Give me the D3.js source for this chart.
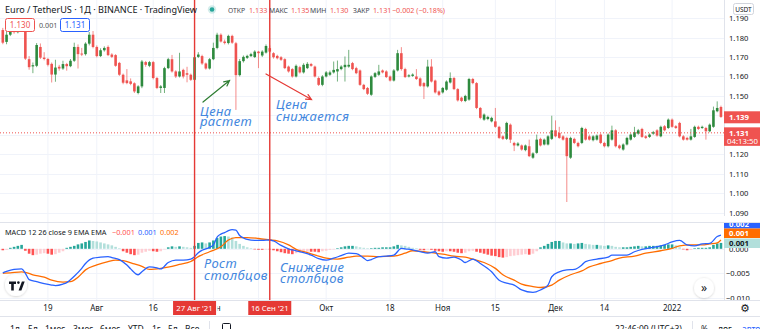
<!DOCTYPE html>
<html><head><meta charset="utf-8">
<script src="https://cdn.jsdelivr.net/npm/d3@7"></script>
<style>
body{margin:0;background:#fff;overflow:hidden}
svg{display:block;font-family:"Noto Sans","Liberation Sans",sans-serif}
</style></head>
<body><svg id="c" width="760" height="329"></svg>
<script>
// EUR/USDT daily candles, 7 Jul 2021 – 14 Jan 2022
const firstDay = "2021-07-07";
const open = [1.1839,1.1778,1.1815,1.1835,1.1828,1.1845,1.1838,1.1689,1.1652,1.1655,1.1752,1.1697,1.1690,1.1665,1.1610,1.1650,1.1641,1.1664,1.1653,1.1681,1.1752,1.1718,1.1715,1.1769,1.1815,1.1752,1.1705,1.1735,1.1752,1.1713,1.1710,1.1670,1.1609,1.1580,1.1575,1.1565,1.1515,1.1549,1.1674,1.1655,1.1674,1.1592,1.1541,1.1541,1.1643,1.1689,1.1626,1.1600,1.1634,1.1617,1.1609,1.1583,1.1701,1.1705,1.1667,1.1641,1.1689,1.1747,1.1815,1.1780,1.1772,1.1809,1.1771,1.1607,1.1679,1.1696,1.1705,1.1700,1.1728,1.1708,1.1723,1.1746,1.1720,1.1706,1.1699,1.1689,1.1651,1.1638,1.1600,1.1648,1.1621,1.1643,1.1664,1.1651,1.1592,1.1557,1.1600,1.1609,1.1621,1.1626,1.1638,1.1648,1.1651,1.1669,1.1643,1.1631,1.1557,1.1541,1.1506,1.1598,1.1609,1.1631,1.1626,1.1600,1.1579,1.1631,1.1720,1.1638,1.1600,1.1603,1.1600,1.1590,1.1566,1.1549,1.1651,1.1579,1.1523,1.1518,1.1532,1.1569,1.1592,1.1535,1.1491,1.1474,1.1481,1.1587,1.1566,1.1438,1.1378,1.1381,1.1369,1.1369,1.1341,1.1292,1.1279,1.1352,1.1258,1.1245,1.1245,1.1221,1.1241,1.1182,1.1207,1.1279,1.1250,1.1250,1.1279,1.1323,1.1310,1.1292,1.1284,1.1182,1.1279,1.1258,1.1258,1.1330,1.1292,1.1272,1.1275,1.1301,1.1258,1.1241,1.1275,1.1323,1.1245,1.1224,1.1250,1.1275,1.1289,1.1306,1.1330,1.1292,1.1289,1.1306,1.1323,1.1292,1.1344,1.1335,1.1378,1.1344,1.1361,1.1292,1.1284,1.1275,1.1289,1.1341,1.1335,1.1335,1.1318,1.1341,1.1421,1.1443];
const high = [1.1850,1.1834,1.1845,1.1850,1.1858,1.1862,1.1845,1.1705,1.1672,1.1772,1.1770,1.1725,1.1696,1.1672,1.1686,1.1660,1.1681,1.1670,1.1690,1.1774,1.1765,1.1747,1.1776,1.1829,1.1834,1.1760,1.1745,1.1755,1.1760,1.1720,1.1715,1.1675,1.1615,1.1638,1.1590,1.1570,1.1555,1.1685,1.1680,1.1680,1.1680,1.1598,1.1556,1.1650,1.1696,1.1711,1.1632,1.1722,1.1640,1.1650,1.1615,1.1706,1.1725,1.1712,1.1672,1.1695,1.1774,1.1825,1.1822,1.1790,1.1815,1.1815,1.1778,1.1690,1.1708,1.1712,1.1722,1.1735,1.1732,1.1735,1.1765,1.1760,1.1725,1.1712,1.1705,1.1694,1.1656,1.1643,1.1662,1.1655,1.1668,1.1674,1.1670,1.1656,1.1600,1.1607,1.1628,1.1630,1.1677,1.1682,1.1658,1.1703,1.1737,1.1675,1.1650,1.1636,1.1562,1.1546,1.1606,1.1623,1.1660,1.1636,1.1632,1.1605,1.1638,1.1737,1.1751,1.1645,1.1612,1.1616,1.1638,1.1596,1.1571,1.1686,1.1689,1.1584,1.1528,1.1546,1.1580,1.1621,1.1598,1.1540,1.1496,1.1506,1.1593,1.1593,1.1571,1.1443,1.1410,1.1398,1.1393,1.1438,1.1346,1.1297,1.1367,1.1358,1.1264,1.1262,1.1250,1.1250,1.1275,1.1210,1.1301,1.1285,1.1281,1.1298,1.1398,1.1374,1.1341,1.1298,1.1290,1.1290,1.1285,1.1264,1.1341,1.1336,1.1301,1.1298,1.1302,1.1307,1.1264,1.1307,1.1347,1.1329,1.1250,1.1256,1.1290,1.1307,1.1341,1.1330,1.1336,1.1298,1.1307,1.1320,1.1329,1.1347,1.1350,1.1384,1.1384,1.1350,1.1367,1.1298,1.1290,1.1330,1.1347,1.1347,1.1347,1.1341,1.1358,1.1445,1.1472,1.1450];
const low = [1.1766,1.1766,1.1808,1.1820,1.1822,1.1830,1.1685,1.1635,1.1617,1.1648,1.1690,1.1683,1.1652,1.1569,1.1573,1.1630,1.1634,1.1630,1.1648,1.1675,1.1641,1.1705,1.1708,1.1760,1.1745,1.1698,1.1700,1.1728,1.1705,1.1695,1.1650,1.1603,1.1560,1.1560,1.1555,1.1515,1.1508,1.1540,1.1650,1.1648,1.1585,1.1535,1.1515,1.1515,1.1638,1.1620,1.1592,1.1595,1.1590,1.1570,1.1577,1.1577,1.1695,1.1660,1.1635,1.1636,1.1684,1.1740,1.1775,1.1765,1.1765,1.1768,1.1428,1.1600,1.1672,1.1690,1.1700,1.1695,1.1643,1.1700,1.1718,1.1722,1.1692,1.1688,1.1680,1.1638,1.1620,1.1594,1.1595,1.1615,1.1615,1.1638,1.1650,1.1595,1.1551,1.1550,1.1595,1.1603,1.1615,1.1574,1.1632,1.1574,1.1645,1.1632,1.1612,1.1552,1.1530,1.1505,1.1500,1.1592,1.1603,1.1616,1.1592,1.1574,1.1574,1.1626,1.1630,1.1592,1.1595,1.1598,1.1582,1.1546,1.1484,1.1543,1.1569,1.1512,1.1500,1.1512,1.1527,1.1564,1.1530,1.1471,1.1468,1.1468,1.1475,1.1560,1.1432,1.1380,1.1372,1.1375,1.1364,1.1336,1.1278,1.1273,1.1273,1.1258,1.1216,1.1240,1.1218,1.1215,1.1185,1.1176,1.1202,1.1240,1.1245,1.1245,1.1273,1.1287,1.1279,1.1270,1.0954,1.1176,1.1252,1.1235,1.1252,1.1270,1.1270,1.1266,1.1270,1.1252,1.1235,1.1235,1.1270,1.1235,1.1225,1.1218,1.1245,1.1270,1.1284,1.1300,1.1284,1.1278,1.1284,1.1300,1.1290,1.1287,1.1318,1.1330,1.1336,1.1330,1.1287,1.1270,1.1270,1.1270,1.1284,1.1325,1.1330,1.1275,1.1313,1.1336,1.1416,1.1387];
const close = [1.1774,1.1815,1.1835,1.1828,1.1845,1.1838,1.1692,1.1648,1.1658,1.1762,1.1697,1.1690,1.1660,1.1610,1.1646,1.1641,1.1664,1.1653,1.1681,1.1752,1.1715,1.1715,1.1769,1.1815,1.1752,1.1705,1.1735,1.1747,1.1710,1.1701,1.1655,1.1609,1.1568,1.1566,1.1562,1.1523,1.1549,1.1677,1.1660,1.1674,1.1592,1.1541,1.1549,1.1643,1.1689,1.1626,1.1600,1.1626,1.1600,1.1609,1.1583,1.1699,1.1713,1.1667,1.1641,1.1689,1.1747,1.1815,1.1780,1.1772,1.1809,1.1774,1.1607,1.1679,1.1701,1.1706,1.1715,1.1728,1.1720,1.1728,1.1757,1.1728,1.1699,1.1694,1.1686,1.1643,1.1626,1.1600,1.1655,1.1621,1.1660,1.1665,1.1655,1.1600,1.1557,1.1600,1.1621,1.1621,1.1634,1.1638,1.1651,1.1660,1.1660,1.1638,1.1617,1.1557,1.1535,1.1511,1.1600,1.1617,1.1626,1.1621,1.1597,1.1579,1.1631,1.1720,1.1638,1.1597,1.1606,1.1610,1.1587,1.1552,1.1549,1.1651,1.1574,1.1518,1.1506,1.1541,1.1574,1.1592,1.1535,1.1477,1.1474,1.1500,1.1587,1.1566,1.1438,1.1387,1.1404,1.1392,1.1387,1.1341,1.1284,1.1279,1.1361,1.1275,1.1245,1.1255,1.1224,1.1245,1.1190,1.1204,1.1275,1.1245,1.1275,1.1292,1.1323,1.1292,1.1284,1.1275,1.1190,1.1284,1.1258,1.1241,1.1335,1.1275,1.1275,1.1292,1.1296,1.1258,1.1241,1.1301,1.1323,1.1241,1.1231,1.1250,1.1284,1.1301,1.1313,1.1323,1.1289,1.1284,1.1301,1.1313,1.1296,1.1341,1.1323,1.1378,1.1341,1.1335,1.1292,1.1275,1.1275,1.1292,1.1341,1.1330,1.1341,1.1318,1.1352,1.1426,1.1438,1.1392];

// MACD (12, 26, close, 9) — line readings by day offset
const macdDay = [0,1,3,5,6,7,9,11,13,14,16,17,19,21,22,24,26,28,29,31,33,34,36,37,39,41,42,44,46,48,50,51,52,53,55,56,57,58,59,60,61,62,63,64,65,67,69,71,72,74,76,78,80,82,84,86,88,90,92,94,96,97,98,100,102,104,106,107,109,111,113,115,116,118,120,122,123,125,127,130,132,134,136,138,141,143,145,146,148,150,152,154,155,158,161,162,166,168,170,173,176,178,180,182,184,186,188,190,191];
const macdValue = [-0.0049,-0.0046,-0.0042,-0.0041,-0.0050,-0.0063,-0.0067,-0.0071,-0.0074,-0.0075,-0.0072,-0.0069,-0.0056,-0.0040,-0.0030,-0.0019,-0.0017,-0.0016,-0.0018,-0.0022,-0.0033,-0.0041,-0.0053,-0.0047,-0.0037,-0.0039,-0.0041,-0.0028,-0.0023,-0.0023,-0.0021,-0.0016,-0.0008,-0.0003,0.0003,0.0008,0.0024,0.0030,0.0033,0.0037,0.0039,0.0038,0.0027,0.0022,0.0019,0.0017,0.0017,0.0018,0.0016,0.0007,0.0000,-0.0004,-0.0008,-0.0013,-0.0020,-0.0023,-0.0019,-0.0014,-0.0009,-0.0010,-0.0019,-0.0024,-0.0022,-0.0016,-0.0015,-0.0013,0.0001,0.0000,-0.0002,-0.0006,-0.0009,-0.0006,-0.0016,-0.0019,-0.0017,-0.0023,-0.0028,-0.0021,-0.0030,-0.0047,-0.0064,-0.0070,-0.0074,-0.0084,-0.0089,-0.0084,-0.0074,-0.0057,-0.0047,-0.0043,-0.0042,-0.0033,-0.0026,-0.0021,-0.0017,-0.0013,-0.0013,-0.0006,-0.0001,0.0003,0.0008,0.0014,0.0017,0.0008,0.0006,0.0010,0.0011,0.0025,0.0028];
const signalDay = [0,2,5,6,8,11,13,16,18,20,22,25,28,30,32,35,37,39,42,45,47,50,52,55,58,60,62,65,68,71,73,76,78,81,84,86,89,92,94,97,100,104,107,109,112,115,117,120,123,125,128,131,133,136,138,141,143,146,148,151,154,156,159,162,164,168,171,175,178,180,183,186,188,190,191];
const signalValue = [-0.0050,-0.0049,-0.0047,-0.0048,-0.0053,-0.0058,-0.0064,-0.0068,-0.0067,-0.0058,-0.0043,-0.0033,-0.0026,-0.0023,-0.0024,-0.0031,-0.0036,-0.0042,-0.0040,-0.0036,-0.0032,-0.0026,-0.0016,-0.0006,0.0004,0.0018,0.0023,0.0023,0.0021,0.0018,0.0016,0.0008,-0.0001,-0.0008,-0.0015,-0.0019,-0.0021,-0.0017,-0.0015,-0.0015,-0.0016,-0.0015,-0.0009,-0.0004,-0.0006,-0.0009,-0.0011,-0.0015,-0.0017,-0.0021,-0.0028,-0.0040,-0.0053,-0.0064,-0.0072,-0.0077,-0.0079,-0.0074,-0.0064,-0.0053,-0.0045,-0.0037,-0.0030,-0.0024,-0.0019,-0.0015,-0.0009,-0.0004,0.0001,0.0006,0.0008,0.0008,0.0010,0.0012,0.0018];
// histogram, one bar per day
const histValue = [-0.0003,-0.0002,0.0002,0.0004,0.0006,0.0008,-0.0004,-0.0010,-0.0013,-0.0012,-0.0010,-0.0009,-0.0010,-0.0012,-0.0011,-0.0008,-0.0005,0.0002,0.0004,0.0006,0.0009,0.0011,0.0014,0.0017,0.0016,0.0015,0.0013,0.0011,0.0009,0.0007,0.0004,0.0001,-0.0005,-0.0008,-0.0011,-0.0013,-0.0012,-0.0008,-0.0006,-0.0004,-0.0005,-0.0006,-0.0005,-0.0001,0.0003,0.0005,0.0004,0.0005,0.0004,0.0003,0.0002,0.0006,0.0012,0.0013,0.0011,0.0013,0.0017,0.0022,0.0025,0.0026,0.0025,0.0023,0.0016,0.0010,0.0006,0.0003,0.0001,-0.0001,-0.0002,-0.0002,-0.0001,-0.0001,-0.0003,-0.0005,-0.0007,-0.0009,-0.0010,-0.0011,-0.0009,-0.0008,-0.0007,-0.0006,-0.0006,-0.0006,-0.0007,-0.0005,-0.0004,-0.0002,-0.0001,0.0001,0.0003,0.0005,0.0006,0.0006,0.0005,0.0003,0.0002,0.0001,0.0001,0.0002,0.0002,0.0003,0.0003,0.0003,0.0005,0.0008,0.0007,0.0006,0.0004,0.0002,0.0001,-0.0002,-0.0003,-0.0001,-0.0002,-0.0004,-0.0005,-0.0006,-0.0005,-0.0005,-0.0006,-0.0008,-0.0009,-0.0008,-0.0005,-0.0004,-0.0006,-0.0008,-0.0010,-0.0012,-0.0014,-0.0015,-0.0017,-0.0018,-0.0017,-0.0015,-0.0014,-0.0013,-0.0012,-0.0011,-0.0012,-0.0010,-0.0005,0.0003,0.0006,0.0010,0.0014,0.0016,0.0016,0.0013,0.0011,0.0011,0.0010,0.0011,0.0012,0.0010,0.0009,0.0008,0.0008,0.0007,0.0006,0.0007,0.0006,0.0004,0.0003,0.0003,0.0003,0.0004,0.0005,0.0006,0.0005,0.0005,0.0006,0.0006,0.0006,0.0007,0.0008,0.0009,0.0009,0.0007,0.0003,-0.0001,-0.0003,-0.0002,0.0001,0.0002,0.0002,0.0002,0.0003,0.0008,0.0011,0.0012];

const priceTicks = [1.190,1.180,1.170,1.160,1.150,1.140,1.130,1.120,1.110,1.100,1.090];
const priceTickLabels = ["1.190","1.180","1.170","1.160","1.150",null,null,"1.120","1.110","1.100","1.090"];
const macdTicks = [0.000,-0.005,-0.010];
const macdTickLabels = ["0.000","\u22120.005","\u22120.010"];
const timeTickDates = ["2021-07-19","2021-08-01","2021-08-16","2021-09-01","2021-09-13","2021-10-01","2021-10-18","2021-11-01","2021-11-15","2021-12-01","2021-12-14","2022-01-01"];
const timeTickLabels = ["19","Авг","16","Сен",null,"Окт","18","Ноя","15","Дек","14","2022"];
const markerDates = ["2021-08-27","2021-09-16"];
const markerLabels = ["27 Авг '21","16 Сен '21"];
const lastPrice = 1.131, prevClose = 1.139;
const legendKeys = ["ОТКР","МАКС","МИН","ЗАКР"];
const legendVals = ["1.133","1.135","1.130","1.131"];
const macdLegend = ["\u22120.001","0.001","0.002"];
const macdAxisValues = ["0.002","0.001","0.001"];
const rangeButtons = ["1д","5д","1мес","3мес","6мес","YTD","1г","5л","Все"];

const parse = d3.utcParse("%Y-%m-%d");
const day0 = parse(firstDay);
const dayAt = i => d3.utcDay.offset(day0, i);
const candles = open.map((o,i)=>({d:dayAt(i),o,h:high[i],l:low[i],c:close[i]}));

const W=760, plotR=724, mainTop=0, mainBot=222, macdTop=223, macdBot=300, axisBot=316;
const x = d3.scaleTime().domain([day0, dayAt(191)]).range([2.8, 2.8+191*3.76]);
const y = d3.scaleLinear().domain([1.090,1.190]).range([212.5,18.2]);
const ym = d3.scaleLinear().domain([-0.010,0]).range([297.8,248.8]);

const UP="#2e8a3e", DOWN="#ef5350", GRID="#f0f3fa", BORDER="#e0e3eb", TXT="#131722";
const svg = d3.select("#c");
const defs = svg.append("defs");
defs.append("clipPath").attr("id","cm").append("rect").attr("x",0).attr("y",mainTop).attr("width",plotR).attr("height",mainBot-mainTop);
defs.append("clipPath").attr("id","cd").append("rect").attr("x",0).attr("y",macdTop).attr("width",plotR).attr("height",macdBot-macdTop);
defs.append("clipPath").attr("id","cz").append("rect").attr("x",plotR).attr("y",248).attr("width",W-plotR).attr("height",10);
defs.append("clipPath").attr("id","cs").append("rect").attr("x",217.5).attr("y",300).attr("width",20).attr("height",16);
const sh = defs.append("filter").attr("id","sh").attr("x","-50%").attr("y","-50%").attr("width","200%").attr("height","200%");
sh.append("feDropShadow").attr("dx",0).attr("dy",0.5).attr("stdDeviation",1.2).attr("flood-color","#000").attr("flood-opacity",0.22);

svg.append("rect").attr("width",W).attr("height",329).attr("fill","#fff");

// grid
const tickDates = timeTickDates.map(parse);
const grid = svg.append("g");
grid.selectAll("line.v").data(tickDates).join("line")
  .attr("x1",d=>x(d)).attr("x2",d=>x(d)).attr("y1",0).attr("y2",macdBot)
  .attr("stroke",GRID).attr("stroke-width",1);
grid.selectAll("line.h").data(priceTicks).join("line")
  .attr("x1",0).attr("x2",plotR).attr("y1",d=>Math.round(y(d))+0.5).attr("y2",d=>Math.round(y(d))+0.5)
  .attr("stroke",GRID);
grid.selectAll("line.m").data(macdTicks).join("line")
  .attr("x1",0).attr("x2",plotR).attr("y1",d=>Math.round(ym(d))+0.5).attr("y2",d=>Math.round(ym(d))+0.5)
  .attr("stroke",GRID);

// candles
const cg = svg.append("g").attr("clip-path","url(#cm)");
const bw = 2.6;
cg.selectAll("line.w").data(candles).join("line")
  .attr("x1",d=>x(d.d)).attr("x2",d=>x(d.d)).attr("y1",d=>y(d.h)).attr("y2",d=>y(d.l))
  .attr("stroke",d=>d.c>=d.o?UP:DOWN).attr("stroke-width",0.9).attr("stroke-opacity",0.75);
cg.selectAll("rect.b").data(candles).join("rect")
  .attr("x",d=>x(d.d)-bw/2).attr("width",bw)
  .attr("y",d=>y(Math.max(d.o,d.c)))
  .attr("height",d=>Math.max(1,Math.abs(y(d.o)-y(d.c))))
  .attr("fill",d=>d.c>=d.o?UP:DOWN);

// last price line
cg.append("line").attr("x1",0).attr("x2",plotR).attr("y1",y(lastPrice)).attr("y2",y(lastPrice))
  .attr("stroke",DOWN).attr("stroke-width",1).attr("stroke-dasharray","1,2");

// MACD pane
const mg = svg.append("g").attr("clip-path","url(#cd)");
const hist = histValue.map((v,i)=>({d:dayAt(i),v,p:i?histValue[i-1]:v}));
const histColor = h => h.v>=0 ? (h.v>=h.p?"#26a69a":"#b2dfdb") : (h.v<=h.p?"#ff5252":"#ffcdd2");
mg.selectAll("rect").data(hist).join("rect")
  .attr("x",d=>x(d.d)-1.3).attr("width",2.6)
  .attr("y",d=>Math.min(ym(0),ym(d.v))).attr("height",d=>Math.max(0.6,Math.abs(ym(d.v)-ym(0))))
  .attr("fill",histColor);
const line = d3.line().x(d=>x(dayAt(d[0]))).y(d=>ym(d[1])).curve(d3.curveMonotoneX);
mg.append("path").attr("d",line(signalDay.map((d,i)=>[d,signalValue[i]])))
  .attr("fill","none").attr("stroke","#ff6d00").attr("stroke-width",1.3);
mg.append("path").attr("d",line(macdDay.map((d,i)=>[d,macdValue[i]])))
  .attr("fill","none").attr("stroke","#2962ff").attr("stroke-width",1.3);

// pane separator
svg.append("line").attr("x1",0).attr("x2",W).attr("y1",222.5).attr("y2",222.5).attr("stroke",BORDER);

// vertical marker lines
const markers = markerDates.map(parse);
svg.selectAll("line.mk").data(markers).join("line")
  .attr("x1",d=>x(d)).attr("x2",d=>x(d)).attr("y1",0).attr("y2",macdBot)
  .attr("stroke","#e53935").attr("stroke-width",1.4);

// annotations
const ann = svg.append("g");
function arrow(x1,y1,x2,y2,col){
  const a=Math.atan2(y2-y1,x2-x1), L=6, s=0.45;
  ann.append("path").attr("d",`M${x1},${y1}L${x2},${y2}M${x2-L*Math.cos(a-s)},${y2-L*Math.sin(a-s)}L${x2},${y2}L${x2-L*Math.cos(a+s)},${y2-L*Math.sin(a+s)}`)
    .attr("fill","none").attr("stroke",col).attr("stroke-width",1.2).attr("stroke-linecap","round");
}
arrow(203,102,229.5,80.5,"#2e7d32");
arrow(266,74,311.5,99.5,"#e53935");
const annStyle = s => s.attr("fill","#4387de").attr("font-style","italic").attr("font-size",13).attr("letter-spacing",0.4);
[["Цена",200,116],["растет",200,125.5],["Цена",276,109],["снижается",276,121],["Рост",204,268],["столбцов",204,279.5],["Снижение",280,272],["столбцов",280,283]]
  .forEach(([t,tx,ty])=>ann.append("text").attr("x",tx).attr("y",ty).text(t).call(annStyle));

// right price axis
const ax = svg.append("g");
ax.append("rect").attr("x",plotR).attr("y",0).attr("width",W-plotR).attr("height",axisBot).attr("fill","#fff");
ax.append("line").attr("x1",plotR+0.5).attr("x2",plotR+0.5).attr("y1",0).attr("y2",axisBot).attr("stroke",BORDER);
ax.selectAll("text.p").data(priceTicks.filter((d,i)=>priceTickLabels[i])).join("text")
  .attr("x",729).attr("y",d=>y(d)+3).attr("font-size",7.6).attr("fill",TXT).text(d=>d3.format(".3f")(d));
ax.append("rect").attr("x",733.5).attr("y",3.5).attr("width",20).attr("height",11).attr("rx",2).attr("fill","#fff").attr("stroke","#d1d4dc");
ax.append("text").attr("x",743.5).attr("y",11.5).attr("text-anchor","middle").attr("font-size",6.5).attr("fill",TXT).text("USDT");
// price labels
ax.append("rect").attr("x",plotR).attr("y",y(prevClose)-6).attr("width",W-plotR).attr("height",12).attr("fill",DOWN);
ax.append("text").attr("x",729).attr("y",y(prevClose)+3).attr("font-size",7.8).attr("font-weight","bold").attr("fill","#fff").text(d3.format(".3f")(prevClose));
ax.append("rect").attr("x",plotR).attr("y",y(lastPrice)-5.5).attr("width",W-plotR).attr("height",18.5).attr("fill",DOWN);
ax.append("text").attr("x",729).attr("y",y(lastPrice)+2.8).attr("font-size",7.8).attr("font-weight","bold").attr("fill","#fff").text(d3.format(".3f")(lastPrice));
ax.append("text").attr("x",727).attr("y",y(lastPrice)+11.2).attr("font-size",7.8).attr("fill","#fff").text("04:13:50");
// MACD axis
const mx = svg.append("g");
mx.selectAll("text").data(macdTicks).join("text")
  .attr("x",(d,i)=>i?726:729).attr("y",d=>ym(d)+3).attr("font-size",7.6).attr("fill",TXT)
  .attr("clip-path",(d,i)=>i?null:"url(#cz)").text((d,i)=>macdTickLabels[i]);
const macdBoxes = [["#2962ff","#fff",219],["#ff6d00","#fff",228.5],["#b2dfdb",TXT,238.5]];
macdBoxes.forEach(([bg,fg,by],i)=>{
  mx.append("rect").attr("x",plotR).attr("y",by).attr("width",W-plotR).attr("height",9.5).attr("fill",bg);
  mx.append("text").attr("x",729).attr("y",by+7.5).attr("font-size",7.8).attr("font-weight","bold").attr("fill",fg).text(macdAxisValues[i]);
});
svg.append("rect").attr("x",plotR).attr("y",216).attr("width",W-plotR).attr("height",6.5).attr("fill","#fff");
svg.append("line").attr("x1",plotR).attr("x2",W).attr("y1",222.5).attr("y2",222.5).attr("stroke",BORDER);

// time axis
const ta = svg.append("g");
ta.append("rect").attr("x",0).attr("y",macdBot).attr("width",W).attr("height",axisBot-macdBot).attr("fill","#fff");
ta.append("line").attr("x1",0).attr("x2",W).attr("y1",macdBot+0.5).attr("y2",macdBot+0.5).attr("stroke",BORDER);
const tickItems = tickDates.map((d,i)=>({d,t:timeTickLabels[i]})).filter(t=>t.t);
ta.selectAll("text").data(tickItems).join("text")
  .attr("x",d=>x(d.d)).attr("y",311).attr("text-anchor","middle").attr("font-size",8).attr("fill",TXT)
  .attr("clip-path",d=>d.t==="Сен"?"url(#cs)":null)
  .text(d=>d.t);
markers.forEach((d,i)=>{
  ta.append("rect").attr("x",x(d)-21.5).attr("y",301).attr("width",43).attr("height",14).attr("fill","#e53935");
  ta.append("text").attr("x",x(d)).attr("y",311).attr("text-anchor","middle").attr("font-size",7.8).attr("fill","#fff").text(markerLabels[i]);
});
ta.append("text").attr("x",745).attr("y",312).attr("text-anchor","middle").attr("font-size",11).attr("font-family","DejaVu Sans").attr("fill",TXT).text("\u2699");

// bottom toolbar
const tb = svg.append("g");
tb.append("line").attr("x1",0).attr("x2",W).attr("y1",316.5).attr("y2",316.5).attr("stroke",BORDER);
const rbX = [10,28,45,73,100,128,152,168,185];
rangeButtons.forEach((t,i)=>tb.append("text").attr("x",rbX[i]).attr("y",331.5).attr("font-size",8.5).attr("fill",TXT).text(t));
tb.append("line").attr("x1",209.5).attr("x2",209.5).attr("y1",321).attr("y2",329).attr("stroke",BORDER);
tb.append("rect").attr("x",222.5).attr("y",323.5).attr("width",8).attr("height",8).attr("rx",1).attr("fill","none").attr("stroke",TXT);
tb.append("text").attr("x",615).attr("y",331.5).attr("font-size",8.5).attr("fill",TXT).text("22:46:09 (UTC+3)");
tb.append("line").attr("x1",692.5).attr("x2",692.5).attr("y1",321).attr("y2",329).attr("stroke",BORDER);
tb.append("text").attr("x",701).attr("y",331.5).attr("font-size",8.5).attr("fill",TXT).text("%");
tb.append("text").attr("x",718).attr("y",331.5).attr("font-size",8.5).attr("fill",TXT).text("лог");
tb.append("text").attr("x",742).attr("y",331.5).attr("font-size",8.5).attr("fill","#2962ff").text("авто");

// legends
const lg = svg.append("g");
lg.append("text").attr("x",5).attr("y",13).attr("font-size",9.1).attr("fill",TXT).text("Euro / TetherUS · 1Д · BINANCE · TradingView");
lg.append("circle").attr("cx",212).attr("cy",9.5).attr("r",4.2).attr("fill","#26a69a").attr("fill-opacity",0.2);
lg.append("circle").attr("cx",212).attr("cy",9.5).attr("r",2.3).attr("fill","#26a69a");
const keyX = [228,269,310,353], valX = [249,291,330,373];
legendKeys.forEach((k,i)=>{
  lg.append("text").attr("x",keyX[i]).attr("y",12.5).attr("font-size",6.8).attr("fill","#434651").text(k);
  lg.append("text").attr("x",valX[i]).attr("y",12.5).attr("font-size",7.2).attr("fill",DOWN).text(legendVals[i]);
});
lg.append("text").attr("x",392).attr("y",12.5).attr("font-size",7.2).attr("fill",DOWN).text("\u22120.002 (\u22120.18%)");
[["1.130",DOWN,5],["1.131","#2962ff",60]].forEach(([t,c,bx])=>{
  lg.append("rect").attr("x",bx+0.5).attr("y",18.5).attr("width",29).attr("height",13).attr("rx",2).attr("fill","#fff").attr("stroke",c);
  lg.append("text").attr("x",bx+15).attr("y",28).attr("text-anchor","middle").attr("font-size",8).attr("fill",c).text(t);
});
lg.append("text").attr("x",39).attr("y",28).attr("font-size",7.2).attr("fill","#555").text("0.001");
const mlX = [112,138,160], mlC = ["#ff5252","#2962ff","#ff6d00"];
lg.append("text").attr("x",5).attr("y",235).attr("font-size",7.3).attr("fill",TXT).text("MACD 12 26 close 9 EMA EMA");
macdLegend.forEach((t,i)=>lg.append("text").attr("x",mlX[i]).attr("y",235).attr("font-size",7.3).attr("fill",mlC[i]).text(t));

// logo and scroll button
const lo = svg.append("g");
lo.append("circle").attr("cx",16).attr("cy",285).attr("r",11).attr("fill","#fff").attr("filter","url(#sh)");
lo.append("path").attr("d","M9,281.5h7v2.6h-2.2v6.4h-2.6v-6.4H9z M18.6,290.5l3.3-9h2.8l-3.3,9z").attr("fill",TXT);
lo.append("circle").attr("cx",18.4).attr("cy",282.6).attr("r",1.3).attr("fill",TXT);
lo.append("circle").attr("cx",704).attr("cy",288).attr("r",10).attr("fill","#fff").attr("filter","url(#sh)");
lo.append("text").attr("x",704).attr("y",292).attr("text-anchor","middle").attr("font-size",12).attr("fill",TXT).text("»");
</script></body></html>
